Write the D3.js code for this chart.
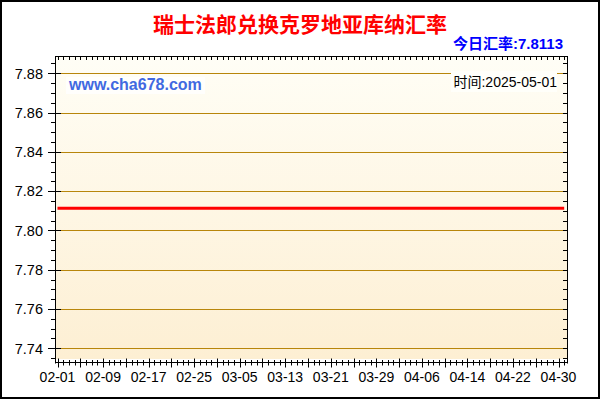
<!DOCTYPE html>
<html>
<head>
<meta charset="utf-8">
<script src="https://cdn.jsdelivr.net/npm/d3@7"></script>
<style>
body{margin:0;background:#fff;}
svg{display:block;}
</style>
</head>
<body>
<div id="chart"></div>
<script>
// daily rate, CHF -> HRK
const days = [
 "2025-02-01","2025-02-02","2025-02-03","2025-02-04","2025-02-05","2025-02-06","2025-02-07","2025-02-08","2025-02-09","2025-02-10",
 "2025-02-11","2025-02-12","2025-02-13","2025-02-14","2025-02-15","2025-02-16","2025-02-17","2025-02-18","2025-02-19","2025-02-20",
 "2025-02-21","2025-02-22","2025-02-23","2025-02-24","2025-02-25","2025-02-26","2025-02-27","2025-02-28",
 "2025-03-01","2025-03-02","2025-03-03","2025-03-04","2025-03-05","2025-03-06","2025-03-07","2025-03-08","2025-03-09","2025-03-10",
 "2025-03-11","2025-03-12","2025-03-13","2025-03-14","2025-03-15","2025-03-16","2025-03-17","2025-03-18","2025-03-19","2025-03-20",
 "2025-03-21","2025-03-22","2025-03-23","2025-03-24","2025-03-25","2025-03-26","2025-03-27","2025-03-28","2025-03-29","2025-03-30","2025-03-31",
 "2025-04-01","2025-04-02","2025-04-03","2025-04-04","2025-04-05","2025-04-06","2025-04-07","2025-04-08","2025-04-09","2025-04-10",
 "2025-04-11","2025-04-12","2025-04-13","2025-04-14","2025-04-15","2025-04-16","2025-04-17","2025-04-18","2025-04-19","2025-04-20",
 "2025-04-21","2025-04-22","2025-04-23","2025-04-24","2025-04-25","2025-04-26","2025-04-27","2025-04-28","2025-04-29","2025-04-30",
 "2025-05-01"
];
const rates = [
 7.8113,7.8113,7.8113,7.8113,7.8113,7.8113,7.8113,7.8113,7.8113,7.8113,
 7.8113,7.8113,7.8113,7.8113,7.8113,7.8113,7.8113,7.8113,7.8113,7.8113,
 7.8113,7.8113,7.8113,7.8113,7.8113,7.8113,7.8113,7.8113,
 7.8113,7.8113,7.8113,7.8113,7.8113,7.8113,7.8113,7.8113,7.8113,7.8113,
 7.8113,7.8113,7.8113,7.8113,7.8113,7.8113,7.8113,7.8113,7.8113,7.8113,
 7.8113,7.8113,7.8113,7.8113,7.8113,7.8113,7.8113,7.8113,7.8113,7.8113,7.8113,
 7.8113,7.8113,7.8113,7.8113,7.8113,7.8113,7.8113,7.8113,7.8113,7.8113,
 7.8113,7.8113,7.8113,7.8113,7.8113,7.8113,7.8113,7.8113,7.8113,7.8113,
 7.8113,7.8113,7.8113,7.8113,7.8113,7.8113,7.8113,7.8113,7.8113,7.8113,
 7.8113
];
const xTickLabels = ["02-01","02-09","02-17","02-25","03-05","03-13","03-21","03-29","04-06","04-14","04-22","04-30"];
const yTicks = [7.74,7.76,7.78,7.80,7.82,7.84,7.86,7.88];

const title = "瑞士法郎兑换克罗地亚库纳汇率";
const todayText = "今日汇率:7.8113";
const timeText = "时间:2025-05-01";
const siteText = "www.cha678.com";

const width = 600, height = 400;
const plotLeft = 56, plotRight = 567, plotTop = 56, plotBottom = 359, axisY = 362.5;
const parse = d3.timeParse("%Y-%m-%d");

let data = days.map((d, i) => ({date: parse(d), v: rates[i]}));

let x = d3.scaleTime()
	.domain([parse("2025-02-01"), parse("2025-04-30")])
	.range([57.5, 558.5]);
let y = d3.scaleLinear()
	.domain([7.74, 7.88])
	.range([348.3, 73.3]);

let svg = d3.select("#chart").append("svg")
	.attr("width", width)
	.attr("height", height);

let defs = svg.append("defs");
let grad = defs.append("linearGradient")
	.attr("id", "bg").attr("x1", 0).attr("y1", 0).attr("x2", 0).attr("y2", 1);
grad.append("stop").attr("offset", "0%").attr("stop-color", "#FFFEF6");
grad.append("stop").attr("offset", "100%").attr("stop-color", "#FDEFD3");

svg.append("rect")
	.attr("x", 1).attr("y", 1).attr("width", 598).attr("height", 397)
	.attr("fill", "#fff").attr("stroke", "#000").attr("stroke-width", 2);

// plot background
svg.append("rect")
	.attr("x", plotLeft).attr("y", plotTop).attr("width", plotRight - plotLeft).attr("height", plotBottom - plotTop)
	.attr("fill", "url(#bg)");

// grid lines
svg.append("g").selectAll("line").data(yTicks).join("line")
	.attr("x1", plotLeft).attr("x2", plotRight)
	.attr("y1", d => Math.round(y(d)) + 0.5).attr("y2", d => Math.round(y(d)) + 0.5)
	.attr("stroke", "#B8860B").attr("stroke-width", 1);

// label boxes
svg.append("rect")
	.attr("x", 66).attr("y", 77).attr("width", 139).attr("height", 17)
	.attr("fill", "#fff").attr("opacity", 0.75);
svg.append("text")
	.attr("x", 69).attr("y", 90)
	.attr("font-family", "'Liberation Sans', Arial, sans-serif")
	.attr("font-size", 16).attr("font-weight", "bold")
	.attr("fill", "#4169E1")
	.text(siteText);

svg.append("rect")
	.attr("x", 451).attr("y", 71).attr("width", 106).attr("height", 21)
	.attr("fill", "#FFFFFA");
svg.append("text")
	.attr("x", 557).attr("y", 86.5)
	.attr("text-anchor", "end")
	.attr("font-family", "'Liberation Sans', 'Noto Sans CJK SC', sans-serif")
	.attr("font-size", 14)
	.attr("fill", "#000")
	.text(timeText);

// the rate line
let line = d3.line()
	.x(d => x(d.date))
	.y(d => y(d.v));
svg.append("path")
	.datum(data)
	.attr("d", line)
	.attr("fill", "none")
	.attr("stroke", "#FF0000")
	.attr("stroke-width", 3);

// frame
let frame = svg.append("g").attr("stroke", "#000").attr("stroke-width", 1);
frame.append("line").attr("x1", 55.5).attr("x2", 55.5).attr("y1", plotTop).attr("y2", axisY + 1);
frame.append("line").attr("x1", 567.5).attr("x2", 567.5).attr("y1", plotTop).attr("y2", axisY + 1);
frame.append("line").attr("x1", 55).attr("x2", 568).attr("y1", 56.5).attr("y2", 56.5);
frame.append("line").attr("x1", 55).attr("x2", 568).attr("y1", axisY).attr("y2", axisY);

// day ticks (top + bottom)
let dayTicks = d3.timeDay.range(parse("2025-02-01"), parse("2025-05-02"));
frame.append("g").selectAll("line").data(dayTicks).join("line")
	.attr("x1", d => Math.round(x(d)) + 0.5).attr("x2", d => Math.round(x(d)) + 0.5)
	.attr("y1", 57).attr("y2", 60);
frame.append("g").selectAll("line").data(dayTicks).join("line")
	.attr("x1", d => Math.round(x(d)) + 0.5).attr("x2", d => Math.round(x(d)) + 0.5)
	.attr("y1", (d, i) => i % 4 == 0 ? axisY - 4 : axisY - 2.5)
	.attr("y2", (d, i) => i % 4 == 0 ? axisY + 5 : axisY + 3);

// y minor ticks every 0.005
let yMinor = d3.range(7.735, 7.8875, 0.005).filter(v => y(v) > plotTop && y(v) < plotBottom);
frame.append("g").selectAll("line").data(yMinor).join("line")
	.attr("x1", 51).attr("x2", 56)
	.attr("y1", d => Math.round(y(d)) + 0.5).attr("y2", d => Math.round(y(d)) + 0.5);
frame.append("g").selectAll("line").data(yMinor).join("line")
	.attr("x1", 563).attr("x2", 567)
	.attr("y1", d => Math.round(y(d)) + 0.5).attr("y2", d => Math.round(y(d)) + 0.5);
frame.append("g").selectAll("line").data(yTicks).join("line")
	.attr("x1", 48).attr("x2", 61)
	.attr("y1", d => Math.round(y(d)) + 0.5).attr("y2", d => Math.round(y(d)) + 0.5);

// axis labels
svg.append("g").selectAll("text").data(yTicks).join("text")
	.attr("x", 43).attr("y", d => y(d))
	.attr("dy", "0.36em")
	.attr("text-anchor", "end")
	.attr("font-family", "'Liberation Sans', Arial, sans-serif")
	.attr("font-size", 14.5)
	.attr("fill", "#000")
	.text(d => d.toFixed(2));

svg.append("g").selectAll("text").data(xTickLabels).join("text")
	.attr("x", d => x(parse("2025-" + d)))
	.attr("y", 382)
	.attr("text-anchor", "middle")
	.attr("font-family", "'Liberation Sans', Arial, sans-serif")
	.attr("font-size", 14)
	.attr("fill", "#000")
	.text(d => d);

// titles
svg.append("text")
	.attr("x", 300).attr("y", 31.5)
	.attr("text-anchor", "middle")
	.attr("font-family", "'Noto Sans CJK SC', sans-serif")
	.attr("font-size", 21).attr("font-weight", "bold")
	.attr("fill", "#FF0000")
	.text(title);

svg.append("text")
	.attr("x", 563).attr("y", 48.5)
	.attr("text-anchor", "end")
	.attr("font-family", "'Liberation Sans', 'Noto Sans CJK SC', sans-serif")
	.attr("font-size", 15).attr("font-weight", "bold")
	.attr("fill", "#0000FF")
	.text(todayText);
</script>
</body>
</html>
